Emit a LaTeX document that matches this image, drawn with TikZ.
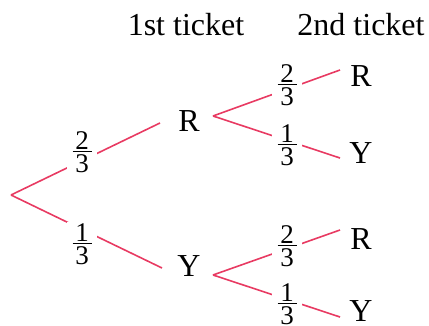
\documentclass[tikz,border=0pt]{standalone}
\usepackage{fontspec}
\setmainfont{Liberation Serif}

\begin{document}
\begin{tikzpicture}[x=1pt,y=-1pt]
    % --- COLOURS ---
    \definecolor{treeRed}{RGB}{232, 58, 98}

    % --- STYLES ---
    \tikzset{
        headNode/.style={inner sep=0pt, font=\fontsize{32}{36}\selectfont},
        outcomeNode/.style={inner sep=0pt, font=\fontsize{32}{36}\selectfont},
        probNode/.style={fill=white, inner sep=0pt, minimum width=30pt, minimum height=44pt, font=\fontsize{27}{30}\selectfont},
        branchLine/.style={draw=treeRed, line width=1.6pt}
    }
    % stacked fraction: numerator, bar, denominator
    \newcommand{\prob}[2]{\vbox{\hbox to 19pt{\hfil#1\hfil}\kern1.5pt\hrule height 1.2pt\kern2pt\hbox to 19pt{\hfil#2\hfil}}}

    \useasboundingbox (0,0) rectangle (429,326);

    % --- HEADINGS ---
    \node[headNode] (head1) at (186,25) {1st ticket};
    \node[headNode] (head2) at (361,25) {2nd ticket};

    % --- OUTCOMES ---
    % first ticket
    \node[outcomeNode] (R1) at (189,121) {R};
    \node[outcomeNode] (Y1) at (189,266) {Y};
    % second ticket
    \node[outcomeNode] (RR) at (361,76) {R};
    \node[outcomeNode] (RY) at (361,153) {Y};
    \node[outcomeNode] (YR) at (361,239) {R};
    \node[outcomeNode] (YY) at (361,311) {Y};

    % --- BRANCH POINTS ---
    \coordinate (root) at (11,195);
    \coordinate (forkR) at (213,116);
    \coordinate (forkY) at (213,275);
    % line ends next to each letter
    \coordinate (endR1) at (160,123);
    \coordinate (endY1) at (162,268);
    \coordinate (endRR) at (340,70);
    \coordinate (endRY) at (340,158);
    \coordinate (endYR) at (340,230);
    \coordinate (endYY) at (340,317);

    % --- BRANCHES ---
    \draw[branchLine] (root) -- (endR1);
    \draw[branchLine] (root) -- (endY1);
    \draw[branchLine] (forkR) -- (endRR);
    \draw[branchLine] (forkR) -- (endRY);
    \draw[branchLine] (forkY) -- (endYR);
    \draw[branchLine] (forkY) -- (endYY);

    % --- PROBABILITIES (white boxes break the lines) ---
    \node[probNode] (pR1) at (82,152) {\prob{2}{3}};
    \node[probNode] (pY1) at (82,244) {\prob{1}{3}};
    \node[probNode] (pRR) at (287,85) {\prob{2}{3}};
    \node[probNode] (pRY) at (287,145) {\prob{1}{3}};
    \node[probNode] (pYR) at (287,246) {\prob{2}{3}};
    \node[probNode] (pYY) at (287,304) {\prob{1}{3}};

\end{tikzpicture}
\end{document}
